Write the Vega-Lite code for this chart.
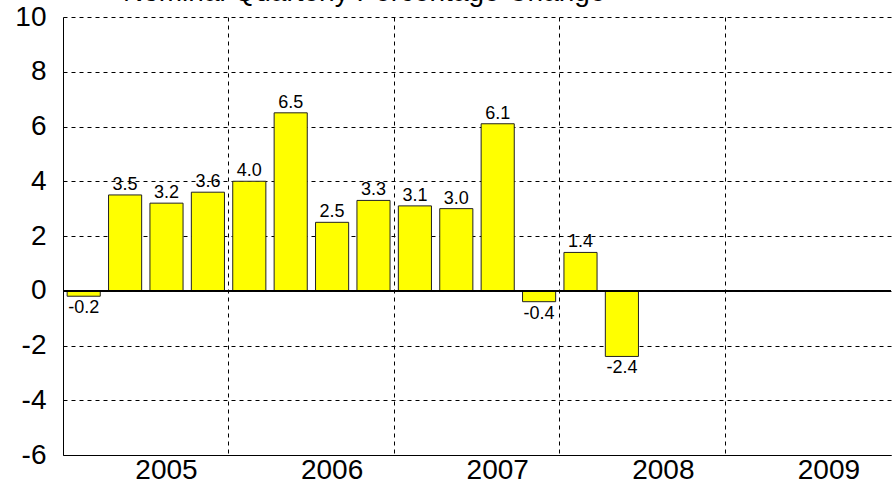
{
  "$schema": "https://vega.github.io/schema/vega-lite/v6.json",
  "autosize": "none",
  "width": 828,
  "height": 438,
  "padding": {"left": 63, "top": 17, "right": 4, "bottom": 37},
  "background": "white",
  "title": {
    "text": "Nominal Quarterly Percentage Change",
    "anchor": "start",
    "frame": "group",
    "dx": 60,
    "offset": -4,
    "font": "Liberation Sans",
    "fontSize": 28,
    "fontWeight": "normal",
    "color": "black"
  },
  "data": {
    "values": [
      {"q": "2005Q1", "v": -0.2},
      {"q": "2005Q2", "v": 3.5},
      {"q": "2005Q3", "v": 3.2},
      {"q": "2005Q4", "v": 3.6},
      {"q": "2006Q1", "v": 4.0},
      {"q": "2006Q2", "v": 6.5},
      {"q": "2006Q3", "v": 2.5},
      {"q": "2006Q4", "v": 3.3},
      {"q": "2007Q1", "v": 3.1},
      {"q": "2007Q2", "v": 3.0},
      {"q": "2007Q3", "v": 6.1},
      {"q": "2007Q4", "v": -0.4},
      {"q": "2008Q1", "v": 1.4},
      {"q": "2008Q2", "v": -2.4}
    ]
  },
  "encoding": {
    "x": {
      "field": "q",
      "type": "ordinal",
      "title": null,
      "scale": {
        "domain": ["2005Q1","2005Q2","2005Q3","2005Q4","2006Q1","2006Q2","2006Q3","2006Q4","2007Q1","2007Q2","2007Q3","2007Q4","2008Q1","2008Q2","2008Q3","2008Q4","2009Q1","2009Q2","2009Q3","2009Q4"],
        "paddingInner": 0.2,
        "paddingOuter": 0.1
      },
      "axis": {
        "bandPosition": -0.125,
        "labelExpr": "slice(datum.value, 4) == 'Q3' ? slice(datum.value, 0, 4) : ''",
        "labelAngle": 0,
        "labelFont": "Liberation Sans",
        "labelFontSize": 28,
        "labelColor": "black",
        "labelPadding": 1,
        "ticks": false,
        "domainColor": "black",
        "domainWidth": 1,
        "grid": true,
        "gridColor": "black",
        "gridDash": [4, 4],
        "gridWidth": 1,
        "gridOpacity": {
          "condition": {"test": "slice(datum.value, 4) == 'Q1' && datum.value != '2005Q1'", "value": 1},
          "value": 0
        }
      }
    },
    "y": {
      "field": "v",
      "type": "quantitative",
      "title": null,
      "scale": {"domain": [-6, 10], "nice": false, "zero": false},
      "axis": {
        "values": [-6, -4, -2, 0, 2, 4, 6, 8, 10],
        "labelFont": "Liberation Sans",
        "labelFontSize": 28,
        "labelColor": "black",
        "labelPadding": 17,
        "ticks": false,
        "domainColor": "black",
        "domainWidth": 1,
        "grid": true,
        "gridColor": "black",
        "gridDash": [4, 4],
        "gridWidth": 1
      }
    }
  },
  "layer": [
    {
      "transform": [{"filter": "datum.v >= 0"}],
      "mark": {"type": "text", "baseline": "alphabetic", "dy": -5, "font": "Liberation Sans", "fontSize": 18, "color": "black"},
      "encoding": {"text": {"field": "v", "type": "quantitative", "format": ".1f"}}
    },
    {
      "transform": [{"filter": "datum.v < 0"}],
      "mark": {"type": "text", "baseline": "top", "dy": 3, "font": "Liberation Sans", "fontSize": 18, "color": "black"},
      "encoding": {"text": {"field": "v", "type": "quantitative", "format": ".1f"}}
    },
    {
      "mark": {"type": "bar", "color": "#FFFF00", "stroke": "#222222", "strokeWidth": 1},
      "encoding": {"y2": {"datum": 0}}
    },
    {
      "mark": {"type": "rule", "color": "black", "strokeWidth": 1},
      "encoding": {"y": {"datum": 0}, "x": {"value": 0}, "x2": {"value": 828}}
    }
  ],
  "config": {
    "view": {"stroke": null},
    "locale": {"number": {"decimal": ".", "thousands": ",", "grouping": [3], "currency": ["$", ""], "minus": "-"}}
  }
}
